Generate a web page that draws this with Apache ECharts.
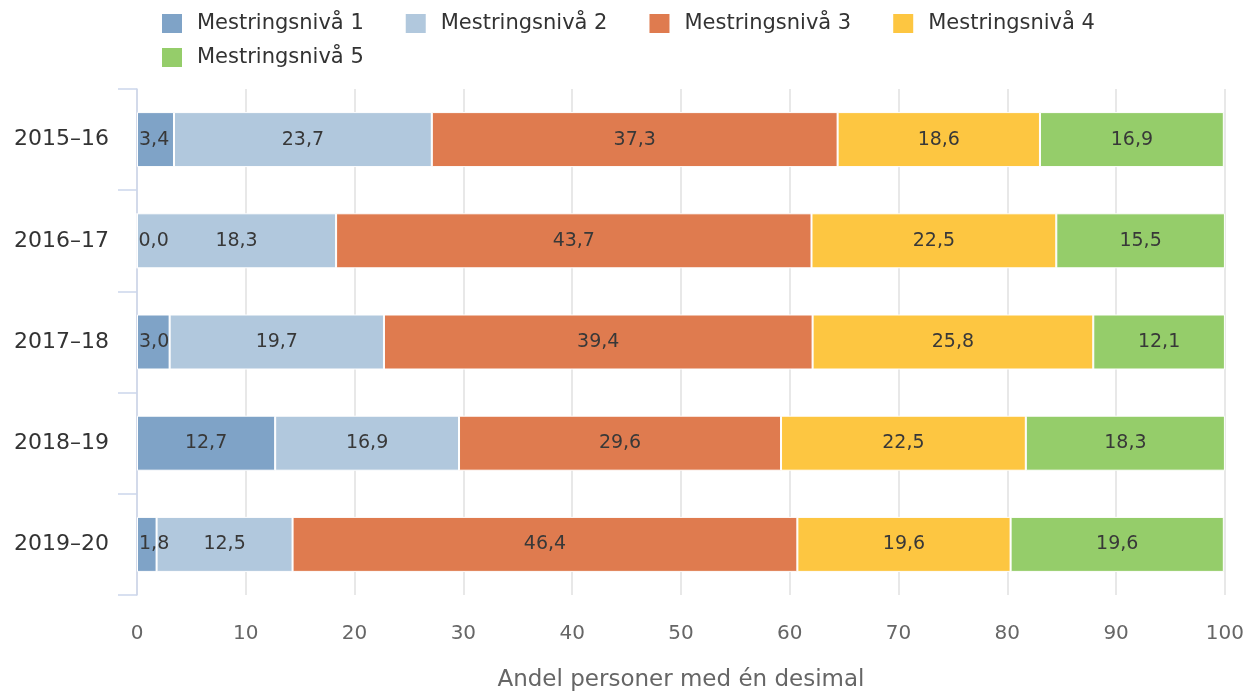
<!DOCTYPE html>
<html>
<head>
<meta charset="utf-8">
<script src="https://cdn.jsdelivr.net/npm/echarts@6/dist/echarts.min.js"></script>
<style>
html,body{margin:0;padding:0;background:#fff;overflow:hidden;}
#c{width:1247px;height:697px;}
</style>
</head>
<body>
<div id="c"></div>
<script>
var categories = ["2015–16", "2016–17", "2017–18", "2018–19", "2019–20"];
var seriesNames = ["Mestringsnivå 1", "Mestringsnivå 2", "Mestringsnivå 3", "Mestringsnivå 4", "Mestringsnivå 5"];
var niva1 = [3.4, 0.0, 3.0, 12.7, 1.8];
var niva2 = [23.7, 18.3, 19.7, 16.9, 12.5];
var niva3 = [37.3, 43.7, 39.4, 29.6, 46.4];
var niva4 = [18.6, 22.5, 25.8, 22.5, 19.6];
var niva5 = [16.9, 15.5, 12.1, 18.3, 19.6];
var xTicks = [0, 10, 20, 30, 40, 50, 60, 70, 80, 90, 100];
var axisTitle = "Andel personer med én desimal";

var colors = ["#7fa3c7", "#b1c8dd", "#df7b4f", "#fdc641", "#95cd6a"];
var values = [niva1, niva2, niva3, niva4, niva5];
var FONT = "DejaVu Sans";

function fmt(v){ return v.toFixed(1).replace('.', ','); }

var series = seriesNames.map(function(name, i){
  return {
    name: name,
    type: 'bar',
    stack: 'total',
    barWidth: 55,
    itemStyle: { color: colors[i], borderColor: '#ffffff', borderWidth: 1 },
    label: {
      show: true,
      position: 'inside',
      color: '#383838',
      fontFamily: FONT,
      fontSize: 19,
      formatter: function(p){ return fmt(p.value); }
    },
    data: values[i].map(function(v){
      if (i === 0 && v < 5) {
        return { value: v, label: { position: 'insideLeft', distance: 2 } };
      }
      return v;
    })
  };
});

var chart = echarts.init(document.getElementById('c'), null, {renderer: 'canvas', width: 1247, height: 697});
chart.setOption({
  animation: false,
  color: colors,
  legend: [
    {
      data: seriesNames.slice(0, 4),
      left: 160, top: 12, padding: 0,
      itemWidth: 22, itemHeight: 21, itemGap: 40,
      icon: 'rect',
      textStyle: { fontFamily: FONT, fontSize: 21, color: '#333', padding: [0,0,0,9] }
    },
    {
      data: seriesNames.slice(4),
      left: 160, top: 46, padding: 0,
      itemWidth: 22, itemHeight: 21,
      icon: 'rect',
      textStyle: { fontFamily: FONT, fontSize: 21, color: '#333', padding: [0,0,0,9] }
    }
  ],
  grid: { left: 137, width: 1089, top: 89, height: 518, containLabel: false },
  xAxis: {
    type: 'value',
    min: xTicks[0], max: xTicks[xTicks.length-1], interval: xTicks[1]-xTicks[0],
    name: axisTitle,
    nameLocation: 'middle',
    nameGap: 74,
    nameTextStyle: { fontFamily: FONT, fontSize: 23, color: '#666' },
    axisLine: { show: false },
    axisTick: { show: false },
    axisLabel: { fontFamily: FONT, fontSize: 20, color: '#666', margin: 29 },
    splitLine: { show: true, lineStyle: { color: '#e0e0e0', width: 1.5 } }
  },
  yAxis: {
    type: 'category',
    data: categories,
    inverse: true,
    axisLine: { show: true, lineStyle: { color: '#ccd6eb', width: 1.5 } },
    axisTick: { show: true, length: 19, lineStyle: { color: '#ccd6eb', width: 1.5 } },
    axisLabel: { fontFamily: FONT, fontSize: 22, color: '#333', margin: 28 },
    splitLine: { show: false }
  },
  series: series
});
</script>
</body>
</html>
